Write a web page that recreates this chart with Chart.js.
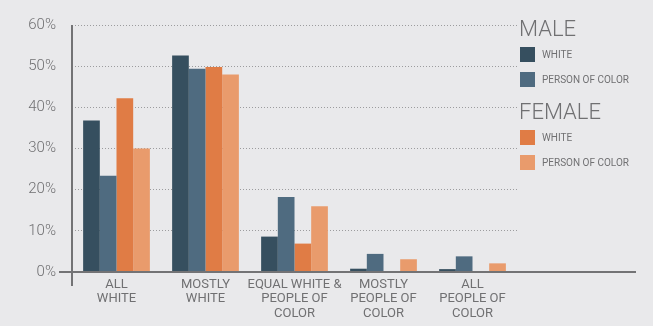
<!DOCTYPE html>
<html>
<head>
<meta charset="utf-8">
<script src="https://cdn.jsdelivr.net/npm/chart.js@4.4.1/dist/chart.umd.min.js"></script>
<style>
  html, body { margin: 0; padding: 0; background: #e9e9eb; }
  #wrap { width: 653px; height: 326px; position: relative; }
</style>
</head>
<body>
<div id="wrap"><canvas id="compChart" width="653" height="326"></canvas></div>
<script>
// --- Data ---
const categories = [
    ['ALL', 'WHITE'],
    ['MOSTLY', 'WHITE'],
    ['EQUAL WHITE &', 'PEOPLE OF', 'COLOR'],
    ['MOSTLY', 'PEOPLE OF', 'COLOR'],
    ['ALL', 'PEOPLE OF', 'COLOR']
];
const maleWhite = [36.8, 52.6, 8.6, 0.8, 0.7];
const malePoc = [23.4, 49.4, 18.2, 4.4, 3.8];
const femaleWhite = [42.2, 49.8, 6.9, 0.2, 0.1];
const femalePoc = [30.0, 48.0, 16.0, 3.1, 2.1];
const yTicks = [0, 10, 20, 30, 40, 50, 60];
const legendGroups = ['MALE', 'FEMALE'];
const seriesLabels = ['WHITE', 'PERSON OF COLOR', 'WHITE', 'PERSON OF COLOR'];

const colors = ['#364f5f', '#4f6b80', '#e07c45', '#e99b6c'];
const textColor = '#707072';
const fontFamily = 'Roboto, "Liberation Sans", sans-serif';

// Draws the long baseline, the y axis line and the grouped legend
const decorPlugin = {
    id: 'decor',
    afterDatasetsDraw(chart) {
        const ctx = chart.ctx;
        const area = chart.chartArea;
        const y0 = chart.scales.y.getPixelForValue(0);
        ctx.save();
        ctx.strokeStyle = '#737375';
        ctx.lineWidth = 2;
        ctx.beginPath();
        ctx.moveTo(59, y0);
        ctx.lineTo(636, y0);
        ctx.moveTo(area.left, area.top);
        ctx.lineTo(area.left, y0 + 14);
        ctx.stroke();

        // legend
        const lx = 520;
        let y = 21;
        chart.data.datasets.forEach((ds, i) => {
            if (i % 2 === 0) {
                ctx.fillStyle = textColor;
                ctx.font = '300 22px ' + fontFamily;
                ctx.textBaseline = 'middle';
                ctx.textAlign = 'left';
                ctx.fillText(legendGroups[i / 2], lx - 1, y + 9);
                y += 26;
            }
            ctx.fillStyle = ds.backgroundColor;
            ctx.fillRect(lx, y, 15, 15);
            ctx.fillStyle = textColor;
            ctx.font = '400 10px ' + fontFamily;
            ctx.textBaseline = 'middle';
            ctx.fillText(ds.label, lx + 22, y + 8);
            y += i % 2 === 0 ? 25 : 32;
        });
        ctx.restore();
    }
};

const datasetValues = [maleWhite, malePoc, femaleWhite, femalePoc];

new Chart(document.getElementById('compChart').getContext('2d'), {
    type: 'bar',
    data: {
        labels: categories,
        datasets: datasetValues.map((vals, i) => ({
            label: seriesLabels[i],
            data: vals,
            backgroundColor: colors[i],
            borderWidth: 0,
            categoryPercentage: 0.75,
            barPercentage: 1
        }))
    },
    options: {
        responsive: false,
        animation: false,
        layout: { padding: { top: 22, right: 136, left: 0, bottom: 0 } },
        plugins: {
            legend: { display: false },
            tooltip: { enabled: false }
        },
        scales: {
            x: {
                grid: { display: false, drawTicks: false },
                border: { display: false },
                ticks: {
                    color: textColor,
                    font: { family: fontFamily, size: 13, lineHeight: 1.12 },
                    padding: 5,
                    maxRotation: 0,
                    autoSkip: false
                },
                afterFit(scale) { scale.height = 54; }
            },
            y: {
                min: 0,
                max: 60,
                afterBuildTicks(scale) { scale.ticks = yTicks.map(v => ({ value: v })); },
                grid: {
                    color: '#9c9c9e',
                    lineWidth: 1,
                    drawTicks: false
                },
                border: { display: false, dash: [1, 2] },
                ticks: {
                    color: textColor,
                    font: { family: fontFamily, size: 15, weight: 300 },
                    padding: 16,
                    callback: v => v + '%'
                },
                afterFit(scale) { scale.width = 72; }
            }
        }
    },
    plugins: [decorPlugin]
});
</script>
</body>
</html>
